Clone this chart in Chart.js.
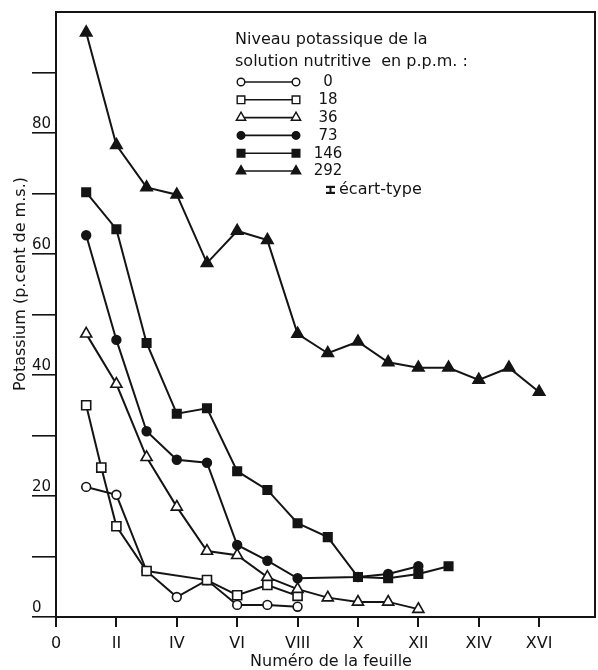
<!DOCTYPE html>
<html>
<head>
<meta charset="utf-8">
<script src="https://cdn.jsdelivr.net/npm/chart.js@4.4.1/dist/chart.umd.min.js"></script>
<style>
  html, body { margin: 0; padding: 0; background: #fff; }
  canvas { display: block; }
</style>
</head>
<body>
<canvas id="c" width="598" height="670"></canvas>
<script>
// Leaf number along the stem (I = first leaf)
const leafNumbers = [1, 1.5, 2, 3, 4, 5, 6, 7, 8, 9, 10, 11, 12, 13, 14, 15, 16];

// Potassium in the leaf (p.cent de m.s.) for each K level of the nutrient solution
const k0   = [21.5, null, 20.2, 7.6, 3.3, 6.1, 2.0, 2.0, 1.7, null, null, null, null, null, null, null, null];
const k18  = [35.0, 24.7, 15.0, 7.6, null, 6.1, 3.6, 5.3, 3.5, null, null, null, null, null, null, null, null];
const k36  = [46.8, null, 38.5, 26.4, 18.2, 10.9, 10.2, 6.6, 4.6, 3.2, 2.5, 2.5, 1.3, null, null, null, null];
const k73  = [63.1, null, 45.8, 30.7, 26.0, 25.5, 11.9, 9.3, 6.4, null, 6.6, 7.1, 8.4, null, null, null, null];
const k146 = [70.2, null, 64.1, 45.3, 33.6, 34.5, 24.1, 21.0, 15.5, 13.2, 6.6, 6.4, 7.1, 8.4, null, null, null];
const k292 = [96.6, null, 78.0, 71.0, 69.8, 58.5, 63.8, 62.3, 46.8, 43.6, 45.5, 42.1, 41.2, 41.2, 39.2, 41.2, 37.2];

const levelLabels = ['0', '18', '36', '73', '146', '292'];
const levelSeries = [k0, k18, k36, k73, k146, k292];

// Axis ticks
const xTickValues = [0, 2, 4, 6, 8, 10, 12, 14, 16];
const xTickLabels = ['0', 'II', 'IV', 'VI', 'VIII', 'X', 'XII', 'XIV', 'XVI'];
const yTickValues = [0, 10, 20, 30, 40, 50, 60, 70, 80, 90];
const yTickLabels = ['0', '', '20', '', '40', '', '60', '', '80', ''];

// Marker look for each level
const INK = '#141414';
const markerStyles = [
  { pointStyle: 'circle',   filled: false, radius: 4.4 },
  { pointStyle: 'rect',     filled: false, radius: 6.4 },
  { pointStyle: 'triangle', filled: false, radius: 6.4 },
  { pointStyle: 'circle',   filled: true,  radius: 4.4 },
  { pointStyle: 'rect',     filled: true,  radius: 6.0 },
  { pointStyle: 'triangle', filled: true,  radius: 6.6 }
];

const FONT = "'DejaVu Sans', 'Liberation Sans', sans-serif";
Chart.defaults.font.family = FONT;
Chart.defaults.color = INK;

function toPoints(values) {
  return leafNumbers
    .map((x, i) => ({ x: x, y: values[i] }))
    .filter(p => p.y !== null);
}

const datasets = levelSeries.map((values, i) => {
  const m = markerStyles[i];
  return {
    label: levelLabels[i],
    data: toPoints(values),
    borderColor: INK,
    borderWidth: 2,
    tension: 0,
    fill: false,
    pointStyle: m.pointStyle,
    pointRadius: m.radius,
    pointBackgroundColor: m.filled ? INK : '#ffffff',
    pointBorderColor: INK,
    pointBorderWidth: 1.6,
    order: levelSeries.length - i
  };
});

function drawMarker(ctx, style, x, y, r) {
  ctx.save();
  ctx.fillStyle = style.filled ? INK : '#ffffff';
  ctx.strokeStyle = INK;
  ctx.lineWidth = 1.4;
  ctx.beginPath();
  if (style.pointStyle === 'circle') {
    ctx.arc(x, y, r, 0, Math.PI * 2);
  } else if (style.pointStyle === 'rect') {
    const s = Math.SQRT1_2 * r;
    ctx.rect(x - s, y - s, 2 * s, 2 * s);
  } else {
    const h = Math.sin(Math.PI / 3) * r;
    ctx.moveTo(x, y - r);
    ctx.lineTo(x + h, y + r / 2);
    ctx.lineTo(x - h, y + r / 2);
    ctx.closePath();
  }
  ctx.fill();
  ctx.stroke();
  ctx.restore();
}

// Top and right sides of the plotting frame
const framePlugin = {
  id: 'frame',
  afterDraw(chart) {
    const { ctx, chartArea: a } = chart;
    ctx.save();
    ctx.strokeStyle = INK;
    ctx.lineWidth = 2;
    ctx.beginPath();
    ctx.moveTo(a.left - 1, a.top);
    ctx.lineTo(a.right, a.top);
    ctx.lineTo(a.right, a.bottom);
    ctx.stroke();
    ctx.restore();
  }
};

// Axis titles and the key in the upper part of the plot
const keyPlugin = {
  id: 'keyAndTitles',
  afterDraw(chart) {
    const { ctx } = chart;
    ctx.save();
    ctx.fillStyle = INK;

    // axis titles
    ctx.font = '16px ' + FONT;
    ctx.textAlign = 'center';
    ctx.textBaseline = 'middle';
    ctx.fillText('Numéro de la feuille', 331, 662);
    ctx.save();
    ctx.translate(21, 284);
    ctx.rotate(-Math.PI / 2);
    ctx.fillText('Potassium (p.cent de m.s.)', 0, 0);
    ctx.restore();

    // key heading
    ctx.textAlign = 'left';
    ctx.fillText('Niveau potassique de la', 235, 40);
    ctx.fillText('solution nutritive  en p.p.m. :', 235, 62);

    // key rows
    const rowTop = 82, rowStep = 17.8, x1 = 241, x2 = 296;
    chart.data.datasets.forEach((ds, i) => {
      const y = rowTop + i * rowStep;
      const m = markerStyles[i];
      ctx.strokeStyle = INK;
      ctx.lineWidth = 1.6;
      ctx.beginPath();
      ctx.moveTo(x1, y);
      ctx.lineTo(x2, y);
      ctx.stroke();
      const r = m.pointStyle === 'circle' ? 3.8 : 5.4;
      drawMarker(ctx, m, x1, y, r);
      drawMarker(ctx, m, x2, y, r);
      ctx.fillStyle = INK;
      ctx.font = '15px ' + FONT;
      ctx.textAlign = 'center';
      ctx.fillText(ds.label, 328, y + 0.5);
    });

    // standard deviation symbol
    const sy = rowTop + 6 * rowStep + 1;
    ctx.fillStyle = INK;
    ctx.fillRect(326, sy - 4, 9, 2.2);
    ctx.fillRect(326, sy + 2, 9, 2.2);
    ctx.fillRect(329.5, sy - 3, 2, 6);
    ctx.font = '16px ' + FONT;
    ctx.textAlign = 'left';
    ctx.fillText('écart-type', 339, sy);
    ctx.restore();
  }
};

new Chart(document.getElementById('c'), {
  type: 'line',
  data: { datasets: datasets },
  options: {
    responsive: false,
    animation: false,
    layout: { autoPadding: false, padding: { left: 32, top: 12, right: 3, bottom: 0 } },
    plugins: {
      legend: { display: false },
      tooltip: { enabled: false }
    },
    scales: {
      x: {
        type: 'linear',
        min: 0,
        max: 17.85,
        afterBuildTicks: s => { s.ticks = xTickValues.map(v => ({ value: v })); },
        afterFit: s => { s.height = 53; },
        border: { display: true, color: INK, width: 2 },
        grid: { drawOnChartArea: false, drawTicks: true, tickLength: 10, color: INK, lineWidth: 2 },
        ticks: {
          autoSkip: false,
          maxRotation: 0,
          padding: 7,
          color: INK,
          font: { size: 16, family: FONT },
          callback: (v, i) => xTickLabels[i]
        }
      },
      y: {
        type: 'linear',
        min: 0,
        max: 100,
        afterBuildTicks: s => { s.ticks = yTickValues.map(v => ({ value: v })); },
        afterFit: s => { s.width = 24; },
        border: { display: true, color: INK, width: 2 },
        grid: { drawOnChartArea: false, drawTicks: true, tickLength: 24, color: INK, lineWidth: 1.6 },
        ticks: {
          autoSkip: false,
          crossAlign: 'far',
          padding: 0,
          labelOffset: -9,
          color: INK,
          font: { size: 15, family: FONT },
          callback: (v, i) => yTickLabels[i]
        }
      }
    }
  },
  plugins: [framePlugin, keyPlugin]
});
</script>
</body>
</html>
